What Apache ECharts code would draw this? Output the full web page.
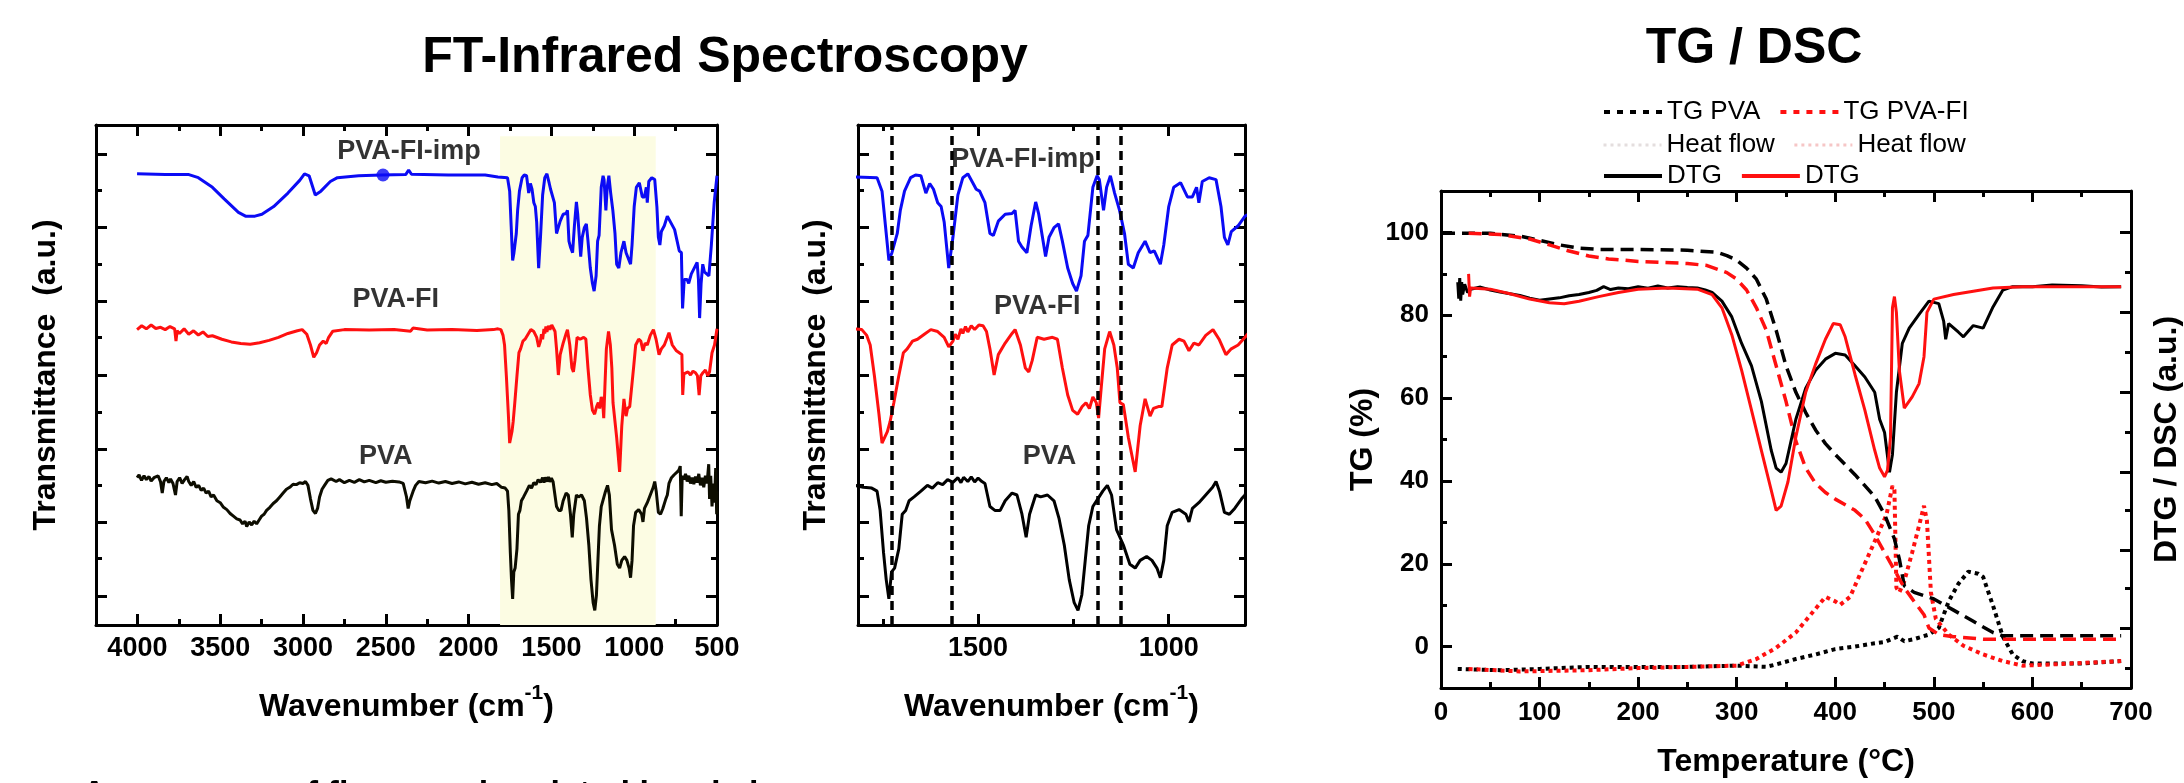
<!DOCTYPE html>
<html><head><meta charset="utf-8">
<script src="https://cdn.jsdelivr.net/npm/echarts@6/dist/echarts.min.js"></script>
<style>html,body{margin:0;padding:0;background:#fff}#c{width:2184px;height:783px}</style>
</head><body><div id="c"></div>
<script>
const FONT = 'Liberation Sans, Arial, Helvetica, sans-serif';

// ---------- FT-IR data: [wavenumber cm-1, transmittance a.u.] ----------
const irPvaImp = [[4002,117.3],[3832,117.1],[3689,117.1],[3632,116.3],[3547,113.8],[3476,110.8],[3390,107.3],[3347,106.3],[3290,106.3],[3248,106.8],[3177,108.8],[3091,112.3],[3020,115.6],[2991,117.3],[2963,116.8],[2926,111.8],[2892,112.8],[2835,115.3],[2792,116.3],[2664,116.8],[2527,117.0],[2380,117.1],[2362,118.3],[2345,117.2],[2123,117.0],[1900,117.0],[1823,116.5],[1765,116.3],[1752,112.8],[1743,103.8],[1734,94.8],[1726,96.8],[1712,101.8],[1704,107.8],[1693,112.8],[1677,116.3],[1664,117.0],[1650,116.8],[1637,112.3],[1627,114.8],[1617,113.3],[1606,109.8],[1597,108.8],[1589,104.8],[1577,92.8],[1566,100.8],[1553,111.8],[1540,116.3],[1527,117.3],[1513,114.8],[1505,113.3],[1496,112.8],[1482,109.8],[1469,101.8],[1460,101.3],[1447,105.0],[1429,106.8],[1411,107.0],[1403,107.8],[1394,99.8],[1385,98.3],[1372,96.8],[1361,103.8],[1349,110.0],[1341,106.8],[1323,95.8],[1314,100.8],[1301,103.3],[1289,104.3],[1279,99.8],[1265,92.8],[1252,88.8],[1242,86.8],[1230,90.8],[1221,99.8],[1212,101.3],[1199,113.8],[1188,116.8],[1182,115.8],[1171,107.8],[1163,113.8],[1153,116.8],[1142,112.3],[1129,107.8],[1116,101.8],[1106,93.8],[1093,92.8],[1080,96.8],[1062,99.8],[1049,96.8],[1038,97.3],[1022,93.8],[1013,98.8],[1000,108.8],[987,113.8],[969,115.0],[951,111.3],[938,111.3],[927,113.8],[921,109.8],[912,115.3],[894,116.3],[876,115.8],[863,108.8],[854,100.8],[845,98.8],[836,102.3],[818,103.8],[800,106.3],[790,106.8],[756,102.8],[728,97.3],[715,96.8],[708,82.3],[698,89.8],[680,89.8],[671,88.8],[655,91.3],[643,91.8],[620,94.3],[612,89.8],[605,79.8],[596,88.8],[586,93.8],[576,91.8],[566,92.3],[549,90.8],[534,98.8],[517,109.8],[500,116.8]];

const irPvaFi = [[4002,76.8],[3974,77.8],[3946,77.0],[3917,78.0],[3889,77.1],[3860,77.4],[3832,76.8],[3803,77.6],[3775,77.0],[3767,73.8],[3760,76.5],[3746,75.8],[3718,77.0],[3690,75.6],[3661,76.5],[3632,75.4],[3604,76.2],[3575,75.0],[3547,75.2],[3490,74.3],[3433,73.6],[3376,73.2],[3319,73.0],[3262,73.4],[3205,74.0],[3148,74.8],[3091,75.8],[3034,76.5],[3005,76.8],[2977,75.6],[2955,72.8],[2935,69.6],[2918,70.8],[2900,72.8],[2878,73.8],[2860,73.2],[2845,74.8],[2820,76.4],[2750,76.8],[2600,76.7],[2450,76.8],[2350,76.4],[2336,77.2],[2250,76.7],[2100,76.8],[1950,76.6],[1850,76.8],[1823,77.0],[1805,76.8],[1792,75.3],[1783,72.8],[1772,64.8],[1760,54.8],[1752,47.3],[1745,48.8],[1738,50.3],[1731,52.8],[1721,57.8],[1708,64.8],[1696,70.8],[1686,71.8],[1672,73.8],[1659,74.3],[1641,75.6],[1624,76.8],[1606,76.3],[1589,74.8],[1577,72.3],[1566,73.8],[1560,75.6],[1553,74.3],[1545,77.0],[1540,75.8],[1533,77.6],[1527,76.2],[1518,77.8],[1509,76.8],[1498,78.0],[1487,77.8],[1478,76.3],[1469,71.8],[1458,65.0],[1447,70.3],[1429,73.3],[1411,75.8],[1403,76.8],[1389,72.8],[1376,66.8],[1367,65.8],[1358,68.8],[1345,74.8],[1327,74.3],[1305,74.8],[1292,74.3],[1279,66.8],[1265,59.8],[1252,55.8],[1239,54.8],[1227,56.8],[1217,57.8],[1208,56.3],[1199,59.3],[1190,57.8],[1184,53.8],[1177,61.8],[1168,71.8],[1155,76.3],[1144,72.8],[1135,66.8],[1128,57.8],[1119,57.3],[1106,48.8],[1088,39.8],[1075,51.8],[1062,58.8],[1049,54.3],[1040,56.3],[1027,56.8],[1018,56.8],[1004,66.8],[991,72.8],[973,74.3],[960,73.8],[947,71.3],[934,73.3],[921,72.8],[903,75.3],[884,76.8],[868,74.3],[850,70.3],[836,71.8],[818,72.8],[800,74.8],[790,76.0],[770,72.8],[745,71.3],[728,70.8],[712,70.3],[707,59.8],[700,65.3],[690,65.6],[675,65.8],[660,65.0],[645,66.0],[630,65.6],[618,64.8],[608,59.8],[598,64.8],[585,65.6],[570,66.3],[556,64.8],[545,65.8],[530,70.8],[515,72.8],[500,77.0]];

const irPva = [[4002,38.3],[3990,39.0],[3975,37.6],[3960,38.8],[3946,37.8],[3930,38.6],[3917,37.4],[3900,38.3],[3889,37.8],[3875,38.8],[3860,37.2],[3850,34.3],[3840,37.3],[3825,38.3],[3810,37.0],[3800,38.0],[3785,36.8],[3770,33.8],[3760,37.3],[3745,38.3],[3730,36.8],[3715,37.8],[3700,38.6],[3690,37.3],[3675,36.3],[3660,37.3],[3645,35.8],[3630,36.3],[3615,35.0],[3600,35.6],[3585,34.3],[3570,34.8],[3555,33.3],[3540,33.8],[3520,32.3],[3500,31.8],[3480,30.6],[3460,30.0],[3440,29.0],[3420,28.3],[3400,27.6],[3380,27.3],[3365,26.3],[3350,27.0],[3340,25.6],[3325,26.8],[3310,26.0],[3295,27.0],[3280,26.3],[3265,27.3],[3250,28.3],[3235,28.8],[3220,29.8],[3200,30.6],[3180,31.6],[3160,32.3],[3140,33.3],[3120,34.3],[3100,35.3],[3080,35.8],[3060,36.6],[3040,36.5],[3020,37.0],[3000,36.8],[2985,37.3],[2970,36.3],[2955,32.8],[2940,29.8],[2925,29.0],[2912,30.3],[2900,33.3],[2885,35.3],[2870,36.3],[2850,37.6],[2830,38.0],[2800,37.3],[2780,37.8],[2750,37.0],[2720,37.6],[2690,37.1],[2660,37.8],[2630,37.2],[2600,37.6],[2560,37.0],[2530,37.5],[2500,37.1],[2460,37.4],[2420,37.2],[2395,36.8],[2375,33.3],[2365,30.3],[2355,32.3],[2345,31.8],[2335,34.8],[2320,36.3],[2300,37.3],[2260,37.0],[2220,37.4],[2180,36.9],[2140,37.3],[2100,36.8],[2060,37.2],[2020,36.7],[1980,37.1],[1940,36.6],[1900,37.0],[1860,36.5],[1830,36.8],[1823,36.3],[1801,35.8],[1779,35.6],[1765,34.8],[1757,29.8],[1748,18.8],[1741,11.8],[1734,6.8],[1727,13.8],[1719,14.8],[1708,19.8],[1699,28.8],[1690,29.8],[1681,32.3],[1668,33.3],[1650,34.8],[1633,36.3],[1620,35.6],[1606,37.0],[1593,36.5],[1580,37.8],[1566,37.1],[1553,38.3],[1545,37.0],[1538,38.4],[1527,37.3],[1518,38.5],[1509,37.2],[1500,38.2],[1490,37.3],[1482,36.8],[1469,30.8],[1456,29.8],[1442,29.8],[1429,32.3],[1411,34.3],[1398,33.8],[1385,28.8],[1374,22.8],[1365,28.8],[1349,33.8],[1336,33.3],[1318,33.8],[1301,32.3],[1288,27.8],[1274,20.8],[1261,11.8],[1248,5.8],[1238,3.8],[1228,7.8],[1219,16.8],[1210,25.8],[1199,30.8],[1186,32.8],[1173,34.8],[1161,36.3],[1150,33.8],[1137,24.8],[1119,20.8],[1102,15.8],[1088,14.8],[1075,16.8],[1058,17.8],[1044,16.8],[1031,14.8],[1022,12.3],[1013,16.8],[1004,25.8],[991,29.3],[973,30.0],[955,28.8],[947,26.8],[938,30.3],[921,31.8],[903,33.8],[885,35.8],[876,37.3],[867,34.8],[854,29.3],[841,28.8],[827,30.3],[809,32.8],[800,33.8],[790,36.8],[775,38.3],[760,39.0],[745,39.6],[730,40.3],[722,41.3],[716,28.3],[710,38.8],[700,37.8],[690,39.3],[680,37.3],[670,38.8],[660,36.8],[650,38.3],[640,36.6],[630,38.6],[620,37.0],[610,39.3],[600,36.3],[590,38.3],[580,35.8],[570,38.8],[560,36.8],[550,41.8],[545,32.8],[538,38.8],[530,30.8],[522,36.8],[515,31.8],[508,40.8],[502,28.8],[500,34.8]];

const irImpSpot = [[2517,117.0]];
const zoomMarks = [1727, 1570, 1185, 1126];

// tick values
const irMajor = [500,1000,1500,2000,2500,3000,3500,4000];
const irMinor = [750,1250,1750,2250,2750,3250,3750];
const zmMajor = [1000,1500];
const zmMinor = [1250,1750];
const trMajor = [7.6,26.8,45.8,65.0,84.3,103.3,122.5];
const trMinor = [17.3,36.3,55.3,74.8,93.8,113.0];

// ---------- TG / DSC data: [temperature °C, value] ----------
const tgPva = [[1,99.8],[50,99.8],[80,99.1],[100,98.1],[120,97.0],[140,96.2],[160,95.9],[200,95.9],[250,95.7],[280,95.2],[290,94.4],[300,93.3],[310,91.4],[320,88.7],[330,83.9],[340,76.4],[350,67.8],[360,61.4],[370,56.5],[380,52.3],[390,49.0],[400,46.4],[420,41.5],[440,36.2],[450,31.9],[460,26.0],[465,21.1],[470,14.7],[480,13.1],[500,11.5],[520,8.8],[540,6.1],[560,3.4],[570,2.6],[600,2.6],[690,2.6]];
const tgPvaFi = [[28,99.8],[60,99.5],[90,98.4],[110,97.0],[130,95.5],[150,94.3],[170,93.6],[200,93.0],[250,92.5],[270,92.0],[290,90.3],[300,88.7],[310,86.1],[320,81.8],[330,76.4],[340,67.8],[350,59.2],[360,49.6],[370,43.1],[380,39.4],[390,37.2],[400,35.6],[420,32.9],[430,30.8],[440,27.0],[450,22.7],[460,18.5],[470,14.2],[480,10.9],[490,7.7],[495,4.5],[505,2.9],[520,2.4],[550,1.8],[600,1.8],[690,1.8]];
const hfPva = [[17,-5.4],[60,-5.7],[100,-5.4],[150,-4.9],[200,-4.9],[250,-4.9],[300,-4.6],[330,-4.9],[340,-4.3],[360,-3.0],[380,-1.9],[400,-0.6],[420,0.0],[440,0.8],[450,1.1],[463,2.4],[470,1.3],[480,1.8],[495,2.9],[505,4.5],[515,10.9],[525,15.2],[535,18.1],[545,17.6],[550,16.8],[560,9.9],[570,2.4],[580,-1.9],[590,-3.5],[600,-4.1],[650,-4.1],[690,-3.5]];
const hfPvaFi = [[28,-5.4],[80,-6.0],[150,-5.7],[200,-5.2],[250,-4.9],[300,-4.6],[320,-3.0],[340,-0.3],[360,3.4],[375,7.7],[390,12.0],[400,10.9],[405,10.1],[415,12.0],[425,17.4],[435,22.7],[445,28.1],[452,31.9],[458,38.8],[460,37.8],[462,14.2],[465,13.1],[470,15.8],[478,22.7],[485,29.2],[490,34.0],[493,30.3],[497,13.1],[502,6.7],[515,2.9],[530,0.2],[550,-1.9],[570,-3.5],[590,-4.6],[620,-4.3],[690,-3.5]];
const dtgPva = [[17,88.0],[18,84.0],[19,89.0],[20,83.5],[21,88.0],[22,85.0],[24,87.5],[27,85.5],[30,86.3],[40,86.8],[50,86.1],[60,85.6],[70,85.2],[80,84.8],[90,84.1],[100,83.6],[110,83.9],[120,84.2],[130,84.7],[140,85.0],[150,85.5],[158,86.0],[165,86.9],[172,86.2],[180,86.6],[190,86.4],[200,86.9],[210,86.5],[220,87.1],[230,86.6],[240,86.9],[250,86.7],[260,86.6],[268,86.1],[275,85.5],[285,83.4],[295,79.6],[305,73.2],[315,67.8],[325,59.2],[335,47.4],[340,43.1],[345,42.1],[350,44.2],[360,54.9],[370,62.4],[380,66.7],[390,69.4],[400,70.8],[410,70.4],[420,67.8],[430,65.1],[440,61.4],[445,54.9],[450,51.7],[455,42.1],[458,46.4],[462,61.4],[468,73.2],[475,76.9],[485,80.2],[495,83.4],[505,82.8],[510,78.5],[512,74.2],[515,78.0],[525,75.9],[530,74.8],[540,77.5],[550,76.9],[560,82.0],[570,86.1],[580,86.9],[600,86.9],[620,87.3],[650,87.1],[670,86.8],[690,86.9]];
const dtgPvaFi = [[28,90.0],[29,84.5],[30,86.6],[50,86.3],[70,85.2],[90,83.9],[110,83.0],[125,82.8],[140,83.4],[160,84.5],[180,85.5],[200,86.3],[230,86.6],[260,86.3],[275,85.0],[285,81.8],[295,75.3],[305,66.7],[315,57.1],[325,47.4],[335,37.8],[340,32.9],[345,33.9],[352,39.8],[360,50.6],[370,61.4],[380,68.2],[390,74.2],[398,78.0],[405,77.7],[410,74.8],[420,65.7],[430,57.1],[440,47.4],[445,43.1],[450,41.0],[453,42.6],[456,50.6],[458,81.8],[460,84.5],[462,80.7],[465,66.7],[470,57.6],[478,60.3],[485,63.5],[490,70.0],[493,80.7],[500,83.9],[520,85.0],[540,85.8],[560,86.6],[590,86.9],[650,86.9],[690,86.9]];

const tMajor = [0,100,200,300,400,500,600,700];
const tMinor = [50,150,250,350,450,550,650];
const tgMajor = [0,20,40,60,80,100];
const tgMinor = [10,30,50,70,90];
const rMajor = [4.5,23.3,42.1,61.4,80.7,100];
const rMinor = [-5.2,14.2,32.9,51.7,71.0,90.3];

// ---------- build ----------
const xAxes = [], yAxes = [];
const tickLine = {color:'#000', width:3};
const lblStyle = {show:true, color:'#000', fontSize:27, fontWeight:'bold', fontFamily:FONT, formatter:function (v) { return String(v); }};
const nameStyle = {color:'#000', fontSize:32, fontWeight:'bold', fontFamily:FONT};

function axisPair(list, grid, pos, min, max, inverse, major, minor, labelOpt, extra) {
  list.push(Object.assign({
    type:'value', gridIndex:grid, position:pos, min:min, max:max, inverse:inverse,
    axisLine:{show:true, onZero:false, lineStyle:{color:'#000', width:3}},
    axisTick:{show:true, inside:true, length:11, customValues:major, lineStyle:tickLine},
    axisLabel: labelOpt ? Object.assign({customValues:major}, lblStyle, labelOpt) : {show:false},
    splitLine:{show:false}
  }, extra || {}));
  const main = list.length - 1;
  list.push({
    type:'value', gridIndex:grid, position:pos, min:min, max:max, inverse:inverse,
    axisLine:{show:false, onZero:false}, axisLabel:{show:false}, splitLine:{show:false},
    axisTick:{show:true, inside:true, length:6, customValues:minor, lineStyle:tickLine}
  });
  return main;
}

const wnName = '{a|Wavenumber (cm}{s|-1}{a|)}';
const wnNameStyle = {rich:{a:Object.assign({}, nameStyle, {lineHeight:40, verticalAlign:'bottom'}), s:Object.assign({}, nameStyle, {fontSize:21, lineHeight:40, verticalAlign:'top'})}};

// grid 0: full FT-IR
const x0 = axisPair(xAxes, 0, 'bottom', 500, 4250, true, irMajor, irMinor, {margin:10},
  {name:wnName, nameLocation:'middle', nameGap:58, nameTextStyle:wnNameStyle});
axisPair(xAxes, 0, 'top', 500, 4250, true, irMajor, irMinor, null);
const y0 = axisPair(yAxes, 0, 'left', 0, 130, false, trMajor, trMinor, null,
  {name:'Transmittance  (a.u.)', nameLocation:'middle', nameRotate:90, nameGap:34, nameTextStyle:nameStyle});
axisPair(yAxes, 0, 'right', 0, 130, false, trMajor, trMinor, null);

// grid 1: zoomed FT-IR
const x1 = axisPair(xAxes, 1, 'bottom', 800, 1815, true, zmMajor, zmMinor, {margin:10},
  {name:wnName, nameLocation:'middle', nameGap:58, nameTextStyle:wnNameStyle});
axisPair(xAxes, 1, 'top', 800, 1815, true, zmMajor, zmMinor, null);
const y1 = axisPair(yAxes, 1, 'left', 0, 130, false, trMajor, trMinor, null,
  {name:'Transmittance  (a.u.)', nameLocation:'middle', nameRotate:90, nameGap:26, nameTextStyle:nameStyle});
axisPair(yAxes, 1, 'right', 0, 130, false, trMajor, trMinor, null);

// grid 2: TG / DSC
const x2 = axisPair(xAxes, 2, 'bottom', 0, 700, false, tMajor, tMinor, {margin:12, fontSize:26},
  {name:'Temperature (°C)', nameLocation:'middle', nameGap:58, nameTextStyle:nameStyle});
axisPair(xAxes, 2, 'top', 0, 700, false, tMajor, tMinor, null);
const y2 = axisPair(yAxes, 2, 'left', -10, 110, false, tgMajor, tgMinor, {margin:12, fontSize:26},
  {name:'TG (%)', nameLocation:'middle', nameRotate:90, nameGap:62, nameTextStyle:nameStyle});
axisPair(yAxes, 2, 'right', -10, 110, false, rMajor, rMinor, null,
  {name:'DTG / DSC (a.u.)', nameLocation:'middle', nameRotate:90, nameGap:20, nameTextStyle:nameStyle});

function line(name, data, color, type, width, xi, yi, extra) {
  return Object.assign({
    type:'line', name:name, data:data, xAxisIndex:xi, yAxisIndex:yi,
    symbol:'none', showSymbol:false, smooth:false, clip:true, animation:false,
    lineStyle:{color:color, width:width, type:type}, itemStyle:{color:color}, z:3
  }, extra || {});
}
function labels(items, xi, yi) {
  return {type:'scatter', xAxisIndex:xi, yAxisIndex:yi, symbolSize:1, silent:true, animation:false, z:5,
    itemStyle:{color:'rgba(0,0,0,0)'},
    label:{show:true, position:'inside', formatter:'{b}', color:'#000', fontSize:27, fontWeight:'bold', fontFamily:FONT},
    data:items};
}

const BLUE = '#0b0bf5', RED = '#ff1010', BLACK = '#000000';
const series = [
  line('ir-pva', irPva, '#0d0d00', 'solid', 3, x0, y0, {
    markArea:{silent:true, itemStyle:{color:'#fcfce3'}, data:[[{xAxis:1810, yAxis:0},{xAxis:870, yAxis:127.1}]]}}),
  line('ir-pvafi', irPvaFi, RED, 'solid', 3, x0, y0),
  line('ir-imp', irPvaImp, BLUE, 'solid', 3, x0, y0),
  {type:'scatter', xAxisIndex:x0, yAxisIndex:y0, data:irImpSpot, symbolSize:13, itemStyle:{color:BLUE}, z:4, animation:false},
  labels([{name:'PVA-FI-imp', value:[2360,123.2]},{name:'PVA-FI', value:[2440,84.6]},{name:'PVA', value:[2500,43.8]}], x0, y0),
  line('z-pva', irPva, BLACK, 'solid', 3, x1, y1, {
    markLine:{silent:true, symbol:['none','none'], label:{show:false}, animation:false,
      lineStyle:{color:'#000', width:3.5, type:[9,6]}, data:zoomMarks.map(v => ({xAxis:v}))}}),
  line('z-pvafi', irPvaFi, RED, 'solid', 3, x1, y1),
  line('z-imp', irPvaImp, BLUE, 'solid', 3, x1, y1),
  labels([{name:'PVA-FI-imp', value:[1382,121.1]},{name:'PVA-FI', value:[1345,82.8]},{name:'PVA', value:[1313,43.8]}], x1, y1),
  line('Heat flow', hfPva, BLACK, [4,4], 4, x2, y2),
  line('Heat flow ', hfPvaFi, RED, [4,4], 4, x2, y2),
  line('TG PVA', tgPva, BLACK, [13,7], 3.5, x2, y2),
  line('TG PVA-FI', tgPvaFi, RED, [13,7], 3.5, x2, y2),
  line('DTG', dtgPva, BLACK, 'solid', 3, x2, y2),
  line('DTG ', dtgPvaFi, RED, 'solid', 3, x2, y2)
];

const noSym = {opacity:0, color:'rgba(0,0,0,0)', borderColor:'rgba(0,0,0,0)', borderWidth:0};
const legBase = {left:1597, itemWidth:58, itemHeight:20, itemGap:18, orient:'horizontal', selectedMode:false,
  itemStyle:noSym, textStyle:{color:'#000', fontSize:26, fontFamily:FONT}};
const legends = [
  Object.assign({}, legBase, {top:94, data:[{name:'TG PVA', itemStyle:noSym, lineStyle:{type:[6,7], width:4}},{name:'TG PVA-FI', itemStyle:noSym, lineStyle:{type:[6,7], width:4}}]}),
  Object.assign({}, legBase, {top:127, data:[{name:'Heat flow', itemStyle:noSym, lineStyle:{color:'#e4dede', type:[3,4], width:3}},{name:'Heat flow ', itemStyle:noSym, lineStyle:{color:'#f6c6c6', type:[3,4], width:3}}]}),
  Object.assign({}, legBase, {top:158, data:[{name:'DTG', itemStyle:noSym, lineStyle:{width:4}},{name:'DTG ', itemStyle:noSym, lineStyle:{width:4}}]})
];

const option = {
  backgroundColor:'#ffffff',
  animation:false,
  grid:[
    {left:96, top:125, width:621, height:500},
    {left:858, top:125, width:387, height:500},
    {left:1441, top:191, width:690, height:497}
  ],
  xAxis:xAxes, yAxis:yAxes, series:series, legend:legends,
  graphic:[
    {type:'text', x:725, y:58, style:{text:'FT-Infrared Spectroscopy', fill:'#000', font:'bold 50px ' + FONT, textAlign:'center', textVerticalAlign:'middle'}},
    {type:'text', x:1754, y:49, style:{text:'TG / DSC', fill:'#000', font:'bold 50px ' + FONT, textAlign:'center', textVerticalAlign:'middle'}},
    {type:'text', x:82, y:778, style:{text:'Appearance of fluorescein related bands in', fill:'#000', font:'bold 34px ' + FONT, textAlign:'left', textVerticalAlign:'top'}}
  ]
};
const chart = echarts.init(document.getElementById('c'));
chart.setOption(option);
</script></body></html>
